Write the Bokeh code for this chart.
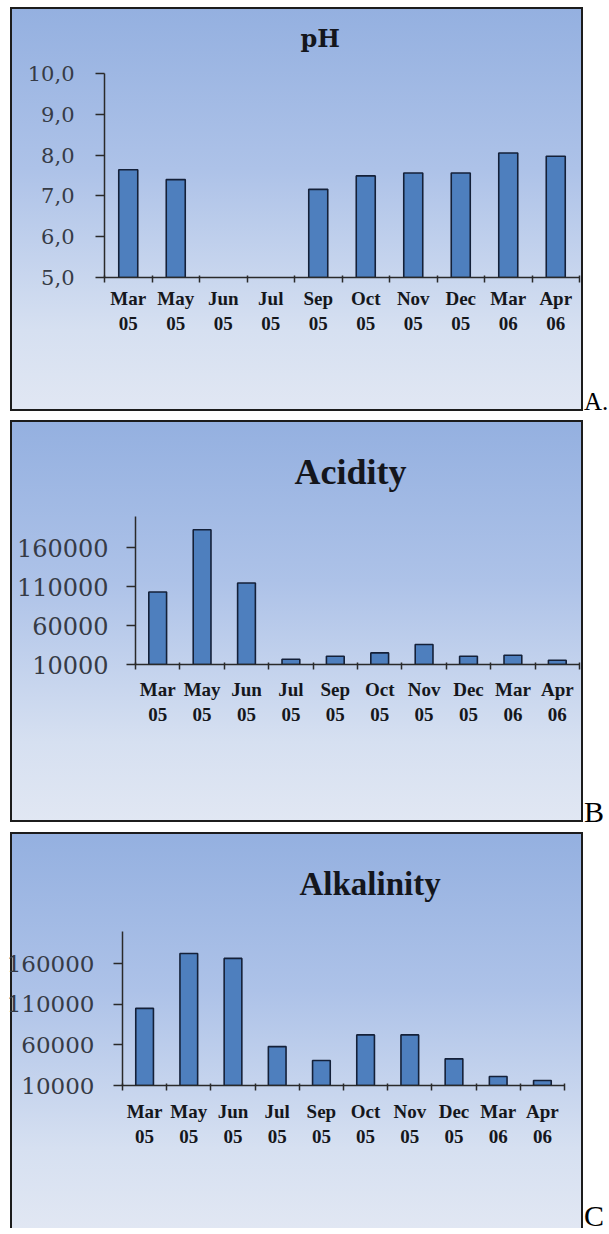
from bokeh.plotting import figure
from bokeh.models import Range1d, LinearAxis, FixedTicker, ColumnDataSource, Title, Div
from bokeh.layouts import row
from bokeh.embed import file_html
from bokeh.resources import INLINE

# ---------------- data ----------------
months = ["Mar", "May", "Jun", "Jul", "Sep", "Oct", "Nov", "Dec", "Mar", "Apr"]
years = ["05", "05", "05", "05", "05", "05", "05", "05", "06", "06"]
ph = [7.64, 7.40, float("nan"), float("nan"), 7.16, 7.49, 7.56, 7.56, 8.05, 7.97]
acidity = [103000, 183000, 114600, 16800, 20600, 24900, 35600, 20600, 21900, 15500]
alkalinity = [105200, 172900, 166800, 58000, 40800, 72400, 72400, 42900, 21100, 16200]
ph_ticks = [5, 6, 7, 8, 9, 10]
ph_tick_labels = ["5,0", "6,0", "7,0", "8,0", "9,0", "10,0"]
big_ticks = [10000, 60000, 110000, 160000]
big_tick_labels = ["10000", "60000", "110000", "160000"]

cat_labels = [f"{m}\n{y}" for m, y in zip(months, years)]
FIG_W = 583
LET_W = 26
BAR_FILL = "#4e7fbe"
BAR_LINE = "#142038"
AX = "#2a2a2a"


def box_css(box_top, box_h, bottom=True):
    c = "#1c1c1c"
    L, W = 10, 573
    T = box_top
    layers = [
        f"linear-gradient({c},{c}) {L}px {T}px / {W}px 2px no-repeat",
        f"linear-gradient({c},{c}) {L}px {T}px / 2px {box_h}px no-repeat",
        f"linear-gradient({c},{c}) {L + W - 2}px {T}px / 2px {box_h}px no-repeat",
    ]
    if bottom:
        layers.append(f"linear-gradient({c},{c}) {L}px {T + box_h - 2}px / {W}px 2px no-repeat")
    layers.append(
        "linear-gradient(to bottom, #94b0e0 0%, #adc2e8 40%, #d6e0f1 80%, #e1e7f3 100%) "
        f"{L}px {T}px / {W}px {box_h}px no-repeat"
    )
    return {"background": ", ".join(layers)}


def make_panel(title, vals, y0, y1, yticks, ylabels, *, height, box_top, box_h, bottom_border,
               mb_left, mb_right, mb_top, mb_bottom, ylab_size, ylab_standoff,
               xlab_standoff, title_offset, title_standoff, title_size, title_font,
               letter, letter_top, letter_size):
    n = len(vals)
    xs = list(range(n))
    p = figure(width=FIG_W, height=height, output_backend="svg", toolbar_location=None,
               tools="", x_range=Range1d(-0.5, n - 0.5), y_range=Range1d(y0, y1),
               x_axis_location=None, y_axis_location=None)
    p.xgrid.visible = False
    p.ygrid.visible = False
    p.min_border_left = mb_left
    p.min_border_right = mb_right
    p.min_border_top = mb_top
    p.min_border_bottom = mb_bottom
    p.border_fill_color = None
    p.background_fill_color = None
    p.outline_line_color = None
    p.styles = box_css(box_top, box_h, bottom_border)

    src = ColumnDataSource(dict(x=xs, top=vals))
    p.vbar(x="x", top="top", bottom=y0 - (y1 - y0), width=0.4, source=src,
           fill_color=BAR_FILL, line_color=BAR_LINE, line_width=1.6)

    yax = LinearAxis(ticker=FixedTicker(ticks=yticks, minor_ticks=[]))
    yax.major_label_overrides = {t: l for t, l in zip(yticks, ylabels)}
    yax.axis_line_color = AX
    yax.axis_line_width = 1.5
    yax.major_tick_line_color = AX
    yax.major_tick_line_width = 1.5
    yax.major_tick_out = 9
    yax.major_tick_in = 0
    yax.minor_tick_line_color = None
    yax.major_label_text_font = "DejaVu Serif"
    yax.major_label_text_font_size = f"{ylab_size}px"
    yax.major_label_text_color = "#363b46"
    yax.major_label_standoff = ylab_standoff
    p.add_layout(yax, "left")

    bounds = [i - 0.5 for i in range(n + 1)]
    xax = LinearAxis(ticker=FixedTicker(ticks=xs, minor_ticks=bounds))
    xax.major_label_overrides = {i: l for i, l in zip(xs, cat_labels)}
    xax.axis_line_color = AX
    xax.axis_line_width = 1.5
    xax.major_tick_line_color = None
    xax.major_tick_out = 0
    xax.major_tick_in = 0
    xax.minor_tick_line_color = AX
    xax.minor_tick_line_width = 1.5
    xax.minor_tick_out = 5
    xax.minor_tick_in = 2
    xax.major_label_text_font = "Liberation Serif"
    xax.major_label_text_font_style = "bold"
    xax.major_label_text_font_size = "19px"
    xax.major_label_text_color = "#15171c"
    xax.major_label_standoff = xlab_standoff
    p.add_layout(xax, "below")

    p.add_layout(Title(text=title, align="left", vertical_align="bottom",
                       offset=title_offset, standoff=title_standoff,
                       text_font=title_font, text_font_style="bold",
                       text_font_size=f"{title_size}px", text_color="#14161c"), "above")

    let = Div(text=(f'<div style="position:relative; top:{letter_top}px; left:1px; '
                    f"font-family:'Liberation Serif'; font-size:{letter_size}px; "
                    f'line-height:1; color:#000; white-space:nowrap;">{letter}</div>'),
              width=LET_W, height=height, margin=0, styles={"overflow": "visible"})
    return row(p, let, spacing=0, margin=0)


ra = make_panel("pH", ph, 5, 10, ph_ticks, ph_tick_labels,
                height=420, box_top=7, box_h=404, bottom_border=True,
                mb_left=104, mb_right=4, mb_top=72, mb_bottom=143,
                ylab_size=21, ylab_standoff=21, xlab_standoff=5,
                title_offset=196, title_standoff=42, title_size=24,
                title_font="DejaVu Serif", letter="A.", letter_top=389, letter_size=25)

rb = make_panel("Acidity", acidity, 10000, 200000, big_ticks, big_tick_labels,
                height=412, box_top=0, box_h=402, bottom_border=True,
                mb_left=135, mb_right=4, mb_top=96, mb_bottom=168,
                ylab_size=24, ylab_standoff=18, xlab_standoff=9,
                title_offset=159, title_standoff=50, title_size=36,
                title_font="Liberation Serif", letter="B", letter_top=377, letter_size=30)

rc = make_panel("Alkalinity", alkalinity, 10000, 200000, big_ticks, big_tick_labels,
                height=396, box_top=0, box_h=396, bottom_border=False,
                mb_left=122, mb_right=19, mb_top=99, mb_bottom=143,
                ylab_size=23, ylab_standoff=19, xlab_standoff=10,
                title_offset=177, title_standoff=59, title_size=33,
                title_font="Liberation Serif", letter="C", letter_top=369, letter_size=30)

open("out.html", "w").write(file_html([ra, rb, rc], INLINE))
